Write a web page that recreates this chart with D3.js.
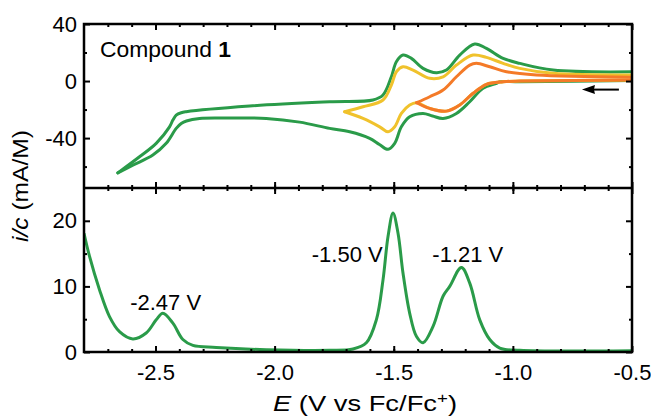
<!DOCTYPE html>
<html>
<head>
<meta charset="utf-8">
<script src="https://cdn.jsdelivr.net/npm/d3@7"></script>
<style>
    body { margin: 0; background: #fff; }
    svg { display: block; }
</style>
</head>
<body>
<svg id="chart" width="651" height="416"></svg>
<script>
// CV branches, [E (V), i/c (mA/M)], forward = scan towards negative potential
const greenForward = [
    [-0.5, 0.3], [-0.971, -0.5], [-1.055, -0.5], [-1.068, -1.6], [-1.125, -5.1],
    [-1.181, -14.5], [-1.237, -22.7], [-1.293, -26.2], [-1.337, -24.5], [-1.377, -22.7],
    [-1.433, -25.1], [-1.468, -32.1], [-1.496, -43.7], [-1.524, -47.9], [-1.56, -44.5],
    [-1.601, -40.2], [-1.685, -35.6], [-1.769, -33.2], [-1.895, -28.8], [-2.035, -26.2],
    [-2.2, -25.9], [-2.315, -26.2], [-2.37, -28.0], [-2.392, -29.8], [-2.413, -33.2],
    [-2.455, -43.7], [-2.511, -51.9], [-2.595, -59.0], [-2.658, -64.4]
];
const greenReverse = [
    [-2.658, -64.4], [-2.567, -53.1], [-2.497, -43.7], [-2.441, -32.1], [-2.427, -27.4],
    [-2.413, -23.9], [-2.392, -22.2], [-2.371, -21.5], [-2.105, -17.5], [-1.769, -14.5],
    [-1.587, -13.3], [-1.545, -9.8], [-1.51, 3.0], [-1.489, 13.5], [-1.461, 18.2],
    [-1.426, 15.9], [-1.377, 8.9], [-1.321, 5.8], [-1.279, 7.7], [-1.223, 18.2],
    [-1.16, 26.0], [-1.111, 22.9], [-1.041, 15.9], [-0.971, 12.4], [-0.831, 7.7],
    [-0.5, 6.5]
];
const yellowForward = [
    [-0.5, 0.7], [-0.971, 0], [-1.041, -0.5], [-1.111, -2.3], [-1.167, -8.6],
    [-1.223, -16.8], [-1.279, -21.1], [-1.349, -19.2], [-1.404, -15.2], [-1.433, -16.8],
    [-1.468, -22.7], [-1.496, -32.1], [-1.524, -35.6], [-1.559, -32.1], [-1.629, -26.2],
    [-1.706, -21.5]
];
const yellowReverse = [
    [-1.706, -21.5], [-1.629, -18.0], [-1.545, -13.3], [-1.51, -2.8], [-1.489, 6.5],
    [-1.461, 10.0], [-1.419, 7.7], [-1.349, 1.9], [-1.293, 3.0], [-1.237, 11.2],
    [-1.167, 18.2], [-1.111, 16.6], [-1.041, 12.4], [-0.971, 8.9], [-0.831, 5.4],
    [-0.5, 4.2]
];
const orangeForward = [
    [-0.5, 0.7], [-0.971, 0], [-1.041, -0.5], [-1.111, -2.3], [-1.167, -8.6],
    [-1.223, -16.8], [-1.279, -21.1], [-1.349, -19.2], [-1.404, -15.2]
];
const orangeReverse = [
    [-1.404, -15.2], [-1.349, -11.0], [-1.293, -6.3], [-1.237, 3.0], [-1.181, 11.2],
    [-1.153, 12.4], [-1.097, 10.0], [-1.027, 6.5], [-0.901, 4.2], [-0.5, 2.6]
];

// DPV
const dpvE = [
    -2.8, -2.777, -2.735, -2.693, -2.651, -2.595, -2.539, -2.497, -2.469, -2.427,
    -2.385, -2.343, -2.245, -2.035, -1.769, -1.671, -1.615, -1.573, -1.545, -1.524,
    -1.503, -1.482, -1.461, -1.433, -1.405, -1.377, -1.335, -1.293, -1.265, -1.216,
    -1.181, -1.139, -1.097, -1.055, -0.971, -0.5
];
const dpvI = [
    18.1, 14.6, 9.5, 5.4, 3.1, 2.0, 2.9, 4.9, 5.9, 4.4,
    1.9, 1.0, 0.7, 0.35, 0.25, 0.45, 1.4, 4.9, 11, 17.6,
    21.2, 18.1, 12, 5.9, 2.4, 1.4, 3.9, 8.5, 10, 12.9,
    10.5, 4.9, 1.9, 0.6, 0.25, 0.2
];
const peakLabels = ['-2.47 V', '-1.50 V', '-1.21 V'];
const peakE = [-2.47, -1.5, -1.21];

const xTicks = [-2.5, -2.0, -1.5, -1.0, -0.5];
const topTicks = [40, 0, -40];
const topMinor = [20, -20, -60];
const botTicks = [0, 10, 20];
const botMinor = [5, 15];

function renderChart() {
    const left = 84, right = 632, top = 24, mid = 188, bottom = 352;
    const font = "'Liberation Sans', Arial, Helvetica, sans-serif";
    const colors = { green: '#2a9b49', yellow: '#f0c22c', orange: '#f47a28' };

    const svg = d3.select('#chart')
        .style('font-family', font)
        .style('font-size', '22px');

    const x = d3.scaleLinear().domain([-2.8, -0.5]).range([left, right]);
    const yTop = d3.scaleLinear().domain([-75, 40]).range([mid, top]);
    const yBot = d3.scaleLinear().domain([0, 25]).range([bottom, mid]);

    const minorX = d3.range(-2.7, -0.5, 0.1).map((v) => +v.toFixed(2));

    svg.append('defs').append('clipPath').attr('id', 'clip')
        .append('rect')
        .attr('x', left).attr('y', top)
        .attr('width', right - left).attr('height', bottom - top);

    const plot = svg.append('g').attr('clip-path', 'url(#clip)');

    // CV loops
    const cvLine = d3.line()
        .x((d) => x(d[0]))
        .y((d) => yTop(d[1]))
        .curve(d3.curveCatmullRom.alpha(0.5));

    const branches = [
        { c: colors.green, d: greenForward },
        { c: colors.green, d: greenReverse },
        { c: colors.yellow, d: yellowForward },
        { c: colors.yellow, d: yellowReverse },
        { c: colors.orange, d: orangeForward },
        { c: colors.orange, d: orangeReverse }
    ];
    plot.append('g')
        .selectAll('path')
        .data(branches)
        .enter()
        .append('path')
        .attr('fill', 'none')
        .attr('stroke', (d) => d.c)
        .attr('stroke-width', 3)
        .attr('stroke-linejoin', 'round')
        .attr('stroke-linecap', 'round')
        .attr('d', (d) => cvLine(d.d));

    // DPV
    const dpvLine = d3.line()
        .x((d, i) => x(dpvE[i]))
        .y((d) => yBot(d))
        .curve(d3.curveCatmullRom.alpha(0.5));
    plot.append('path')
        .attr('fill', 'none')
        .attr('stroke', colors.green)
        .attr('stroke-width', 3)
        .attr('d', dpvLine(dpvI));

    // ticks, all pointing inwards
    function addAxis(axis, pos, values, size, fmt, pad) {
        const g = svg.append('g')
            .attr('transform', pos)
            .call(axis
                .tickValues(values)
                .tickSize(size)
                .tickPadding(pad || 7)
                .tickFormat(fmt || ''));
        g.select('.domain').remove();
        g.selectAll('line').attr('stroke', '#000').attr('stroke-width', 2);
        g.selectAll('text')
            .attr('fill', '#000')
            .style('font-size', '22px')
            .style('font-family', font);
        return g;
    }
    const atBottom = `translate(0,${bottom})`;
    const atMid = `translate(0,${mid})`;
    const atTop = `translate(0,${top})`;
    const atLeft = `translate(${left},0)`;
    const atRight = `translate(${right},0)`;

    addAxis(d3.axisBottom(x), atBottom, xTicks, -6, (d) => d.toFixed(1), 12);
    addAxis(d3.axisBottom(x), atBottom, minorX, -3);
    addAxis(d3.axisBottom(x), atMid, xTicks, -6);
    addAxis(d3.axisBottom(x), atMid, minorX, -3);
    addAxis(d3.axisTop(x), atMid, xTicks, -6);
    addAxis(d3.axisTop(x), atMid, minorX, -3);
    addAxis(d3.axisTop(x), atTop, xTicks, -6);
    addAxis(d3.axisTop(x), atTop, minorX, -3);

    addAxis(d3.axisLeft(yTop), atLeft, topTicks, -6, (d) => String(d));
    addAxis(d3.axisLeft(yTop), atLeft, topMinor, -3);
    addAxis(d3.axisLeft(yBot), atLeft, botTicks, -6, (d) => String(d));
    addAxis(d3.axisLeft(yBot), atLeft, botMinor, -3);
    addAxis(d3.axisRight(yTop), atRight, topTicks, -6);
    addAxis(d3.axisRight(yTop), atRight, topMinor, -3);
    addAxis(d3.axisRight(yBot), atRight, botTicks, -6);
    addAxis(d3.axisRight(yBot), atRight, botMinor, -3);

    // frames
    svg.append('rect')
        .attr('x', left).attr('y', top)
        .attr('width', right - left).attr('height', bottom - top)
        .attr('fill', 'none').attr('stroke', '#000').attr('stroke-width', 2.5);
    svg.append('line')
        .attr('x1', left).attr('x2', right).attr('y1', mid).attr('y2', mid)
        .attr('stroke', '#000').attr('stroke-width', 2.5);

    // legend
    const legend = svg.append('text')
        .attr('x', 100).attr('y', 57)
        .attr('textLength', 131)
        .attr('lengthAdjust', 'spacingAndGlyphs');
    legend.append('tspan').text('Compound ');
    legend.append('tspan').attr('font-weight', 'bold').text('1');

    // scan direction arrow
    const ay = yTop(-6);
    const tip = x(-0.71);
    svg.append('line')
        .attr('x1', x(-0.555)).attr('x2', tip + 8)
        .attr('y1', ay).attr('y2', ay)
        .attr('stroke', '#000').attr('stroke-width', 2);
    svg.append('path')
        .attr('d', `M${tip},${ay} L${tip + 13},${ay - 4.5} L${tip + 12},${ay} L${tip + 13},${ay + 4.5} Z`)
        .attr('fill', '#000');

    // peak labels
    const labelPos = [
        { dx: 3, anchor: 'middle', y: 310 },
        { dx: -11, anchor: 'end', y: 262 },
        { dx: 5, anchor: 'middle', y: 262 }
    ];
    svg.append('g')
        .selectAll('text')
        .data(peakLabels)
        .enter()
        .append('text')
        .attr('x', (d, i) => x(peakE[i]) + labelPos[i].dx)
        .attr('y', (d, i) => labelPos[i].y)
        .attr('text-anchor', (d, i) => labelPos[i].anchor)
        .text((d) => d);

    // axis titles
    const yTitle = svg.append('text')
        .attr('transform', `translate(28,186) rotate(-90)`)
        .attr('text-anchor', 'middle')
        .attr('textLength', 112)
        .attr('lengthAdjust', 'spacingAndGlyphs');
    yTitle.append('tspan').attr('font-style', 'italic').text('i/c');
    yTitle.append('tspan').text(' (mA/M)');

    const xTitle = svg.append('text')
        .attr('x', 273).attr('y', 411)
        .attr('textLength', 184)
        .attr('lengthAdjust', 'spacingAndGlyphs');
    xTitle.append('tspan').attr('font-style', 'italic').text('E');
    xTitle.append('tspan').text(' (V vs Fc/Fc');
    xTitle.append('tspan').attr('dy', -8).style('font-size', '15px').text('+');
    xTitle.append('tspan').attr('dy', 8).text(')');
}
renderChart();
</script>
</body>
</html>
